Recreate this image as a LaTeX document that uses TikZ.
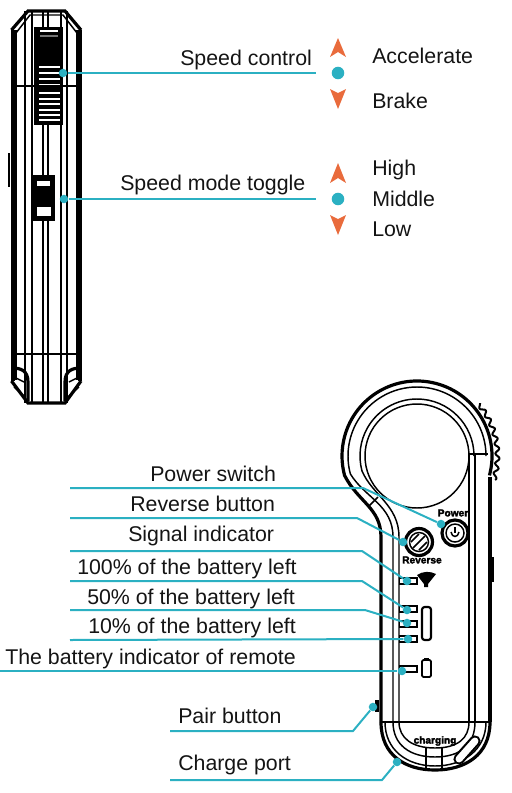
\documentclass[tikz,border=0pt]{standalone}
\usepackage{fontspec}
\setmainfont{Liberation Sans}
\newfontfamily\printedfont[FakeBold=2.5]{Liberation Sans Bold}
\definecolor{leadercolor}{HTML}{2BB0C2}
\definecolor{markercolor}{HTML}{E96B3C}
\tikzset{
  caption/.style={anchor=base west, inner sep=0pt, font=\fontsize{16}{19}\selectfont, text=black!92},
  printed/.style={inner sep=0pt, font=\fontsize{7.6}{9}\printedfont},
  leader/.style={draw=leadercolor, line width=1.5pt},
  leaderdot/.style={circle, fill=leadercolor, inner sep=0pt, minimum size=6.4pt},
  modedot/.style={circle, fill=leadercolor, inner sep=0pt, minimum size=9.4pt},
  marker/.style={fill=markercolor},
  thin outline/.style={draw=black, line width=1.1pt},
  heavy outline/.style={draw=black, line width=2.4pt}
}
\begin{document}
\begin{tikzpicture}[x=0.75pt, y=-0.75pt]
\useasboundingbox (0,0) rectangle (511,793);
\begin{scope}
\foreach \px in {25,32,43,48,61,67}{
  \draw[thin outline] (\px,11) -- (\px,403);
}
\draw[heavy outline] (13,30) -- (13,381);
\draw[heavy outline] (80,30) -- (80,381);
\draw[thin outline] (16,30) -- (16,380);
\draw[thin outline] (77,30) -- (77,380);
\draw[heavy outline] (11.5,30) -- (28,11) -- (65,11) -- (81,30);
\draw[thin outline] (16,33) -- (30,15) -- (63,15) -- (77,33);
\draw[thin outline] (11,354) -- (81,354);
\draw[heavy outline] (11.5,381) -- (28,403) -- (65,403) -- (81,381);
\draw[thin outline] (9,153) -- (9,187);
\fill[black] (34,27) rectangle (63,125);
\draw[white, line width=1pt] (40,31) -- (58,31);
\draw[black!55, line width=1pt] (40,36) -- (58,36);
\foreach \py in {67,73,79,85,93,99,104,110,115,120}{
  \draw[white, line width=1.4pt] (39,\py) -- (60,\py);
}
\draw[thin outline] (11,86) -- (81,86);
\fill[black] (32,175) rectangle (55,221);
\fill[white] (37,181) rectangle (50,186);
\fill[white] (37,207) rectangle (51,216);
\draw[heavy outline] (12,368) .. controls (20,368) and (28,370) .. (28,382) -- (28,401);
\draw[heavy outline] (81,368) .. controls (73,368) and (65,370) .. (65,382) -- (65,401);
\draw[thin outline] (14,377) -- (24,382);
\draw[thin outline] (79,377) -- (69,382);
\draw[thin outline] (14,387) -- (25,397);
\draw[thin outline] (79,387) -- (68,397);
\end{scope}

\coordinate (head) at (417,456);
\draw[heavy outline] (head) ++(15:75) arc[start angle=15, end angle=-195, radius=75]
  .. controls (358,502) and (381,508) .. (381,537) -- (381,722);
\draw[thin outline] (head) ++(0:69) arc[start angle=0, end angle=-195, radius=69]
  .. controls (365,498) and (393,505) .. (393,537) -- (393,722);
\draw[thin outline] (head) ++(0:57) arc[start angle=0, end angle=-195, radius=57]
  .. controls (372,495) and (399,505) .. (399,537) -- (399,722);
\draw[thin outline] (head) circle[radius=52];
\draw[thin outline] (469,454) -- (469,722);
\draw[thin outline] (475,454) -- (475,722);
\draw[thin outline] (469,454) -- (488,454);
\draw[thin outline] (368,507) -- (378,497);
\draw[heavy outline] (490,477) -- (490,722);
\draw[heavy outline] (492,557) -- (492,582);
\draw[heavy outline] (377,700) -- (377,712);
\draw[line width=1.5pt] plot[domain=-40:17, samples=200, smooth]
  ({417+(80.5+2*sin(\x*51))*cos(\x)}, {456+(80.5+2*sin(\x*51))*sin(\x)});
\draw[thin outline] (380,722) -- (490,722);
\draw[heavy outline] (381,722) .. controls (381,755) and (405,770) .. (435,770) .. controls (465,770) and (490,755) .. (490,722);
\draw[thin outline] (385,722) .. controls (385,750) and (407,766) .. (435,766) .. controls (463,766) and (486,750) .. (486,722);
\draw[thin outline] (393,722) .. controls (393,745) and (410,757) .. (435,757) .. controls (460,757) and (475,745) .. (475,722);
\draw[thin outline] (399,722) .. controls (399,738) and (412,748) .. (435,748) .. controls (458,748) and (469,738) .. (469,722);
\draw[thin outline] (426,748) -- (426,770);
\draw[thin outline] (442,748) -- (442,770);
\draw[black, line width=8.4pt, line cap=round] (459,759) -- (475,741);
\draw[white, line width=5.2pt, line cap=round] (459,759) -- (475,741);
\fill[black] (399,577) rectangle (418,585);
\fill[white] (400,579) rectangle (416,583);
\fill[black] (399,605) rectangle (418,613);
\fill[white] (400,607) rectangle (416,611);
\fill[black] (399,620) rectangle (418,628);
\fill[white] (400,622) rectangle (416,626);
\fill[black] (399,635) rectangle (418,643);
\fill[white] (400,637) rectangle (416,641);
\fill[black] (399,665) rectangle (418,673);
\fill[white] (400,667) rectangle (416,671);
\fill[black] (417,575) .. controls (423,571) and (430,571) .. (436,574) -- (428,584) -- (428,587) -- (424,587) -- (424,584) -- cycle;
\draw[heavy outline, line width=1.6pt, rounded corners=2pt] (422,607) rectangle (431,640);
\draw[heavy outline, line width=1.3pt, rounded corners=1pt] (422,660) rectangle (431,677);
\fill[black] (424,658) rectangle (429,660);
\draw[heavy outline] (455,533) circle[radius=13];
\draw[thin outline] (455,533) circle[radius=9];
\draw[thin outline] (451,532) .. controls (452,538) and (458,538) .. (459,532);
\draw[thin outline] (455,527) -- (455,533);
\draw[heavy outline] (419,542) circle[radius=13.5];
\draw[thin outline] (419,542) circle[radius=9.5];
\draw[thin outline] (413,548) -- (425,536);
\draw[thin outline] (411,542) -- (419,534);
\draw[thin outline] (419,550) -- (427,542);
\node[printed] (powerprint) at (453,513) {Power};
\node[printed] (reverseprint) at (422,560) {Reverse};
\node[printed] (chargingprint) at (435,741) {charging};

\node[caption] (speedcontrol) at (180,65) {Speed control};
\node[caption] (speedmode) at (120,190) {Speed mode toggle};
\node[caption] (accelerate) at (372,63) {Accelerate};
\node[caption] (brake) at (372,108) {Brake};
\node[caption] (high) at (372,175) {High};
\node[caption] (middle) at (372,206) {Middle};
\node[caption] (low) at (372,236) {Low};
\node[caption] (powerswitch) at (150,481) {Power switch};
\node[caption] (reversebutton) at (130,511) {Reverse button};
\node[caption] (signalindicator) at (128,541) {Signal indicator};
\node[caption] (batteryfull) at (77,574) {100\% of the battery left};
\node[caption] (batteryhalf) at (87,604) {50\% of the battery left};
\node[caption] (batterylow) at (88,633) {10\% of the battery left};
\node[caption] (batteryremote) at (5,664) {The battery indicator of remote};
\node[caption] (pairbutton) at (178,723) {Pair button};
\node[caption] (chargeport) at (178,770) {Charge port};

\node[leaderdot] (dotspeed) at (63,73) {};
\node[leaderdot] (dotmode) at (64,199) {};
\node[leaderdot] (dotpower) at (441,524) {};
\node[leaderdot] (dotreverse) at (403,542) {};
\node[leaderdot] (dotsignal) at (407,581) {};
\node[leaderdot] (dotfull) at (407,610) {};
\node[leaderdot] (dothalf) at (407,623) {};
\node[leaderdot] (dotlow) at (408,639) {};
\node[leaderdot] (dotremote) at (402,671) {};
\node[leaderdot] (dotpair) at (373,707) {};
\node[leaderdot] (dotcharge) at (397,762) {};
\node[modedot] (modespeed) at (338,73) {};
\node[modedot] (modetoggle) at (338,199) {};

\coordinate (endspeed) at (316,73);
\coordinate (endmode) at (316,199);
\coordinate (startpower) at (70,488);
\coordinate (bendpower) at (363,488);
\coordinate (startreverse) at (70,518);
\coordinate (bendreverse) at (357,518);
\coordinate (startsignal) at (70,551);
\coordinate (bendsignal) at (362,551);
\coordinate (startfull) at (70,581);
\coordinate (bendfull) at (362,581);
\coordinate (starthalf) at (70,610);
\coordinate (bendhalf) at (365,610);
\coordinate (startlow) at (70,640);
\coordinate (startremote) at (0,671);
\coordinate (startpair) at (170,731);
\coordinate (bendpair) at (353,731);
\coordinate (startcharge) at (170,780);
\coordinate (bendcharge) at (382,780);

\draw[leader] (dotspeed) -- (endspeed);
\draw[leader] (dotmode) -- (endmode);
\draw[leader] (startpower) -- (bendpower) -- (dotpower);
\draw[leader] (startreverse) -- (bendreverse) -- (dotreverse);
\draw[leader] (startsignal) -- (bendsignal) -- (dotsignal);
\draw[leader] (startfull) -- (bendfull) -- (dotfull);
\draw[leader] (starthalf) -- (bendhalf) -- (dothalf);
\draw[leader] (startlow) -- (dotlow);
\draw[leader] (startremote) -- (dotremote);
\draw[leader] (startpair) -- (bendpair) -- (dotpair);
\draw[leader] (startcharge) -- (bendcharge) -- (dotcharge);

\fill[marker] (338,38) -- (346,57) -- (338,52) -- (330,57) -- cycle;
\fill[marker] (338,109) -- (346,89) -- (338,93) -- (330,89) -- cycle;
\fill[marker] (338,163) -- (346,183) -- (338,178) -- (330,183) -- cycle;
\fill[marker] (338,235) -- (346,215) -- (338,219) -- (330,215) -- cycle;
\end{tikzpicture}
\end{document}
